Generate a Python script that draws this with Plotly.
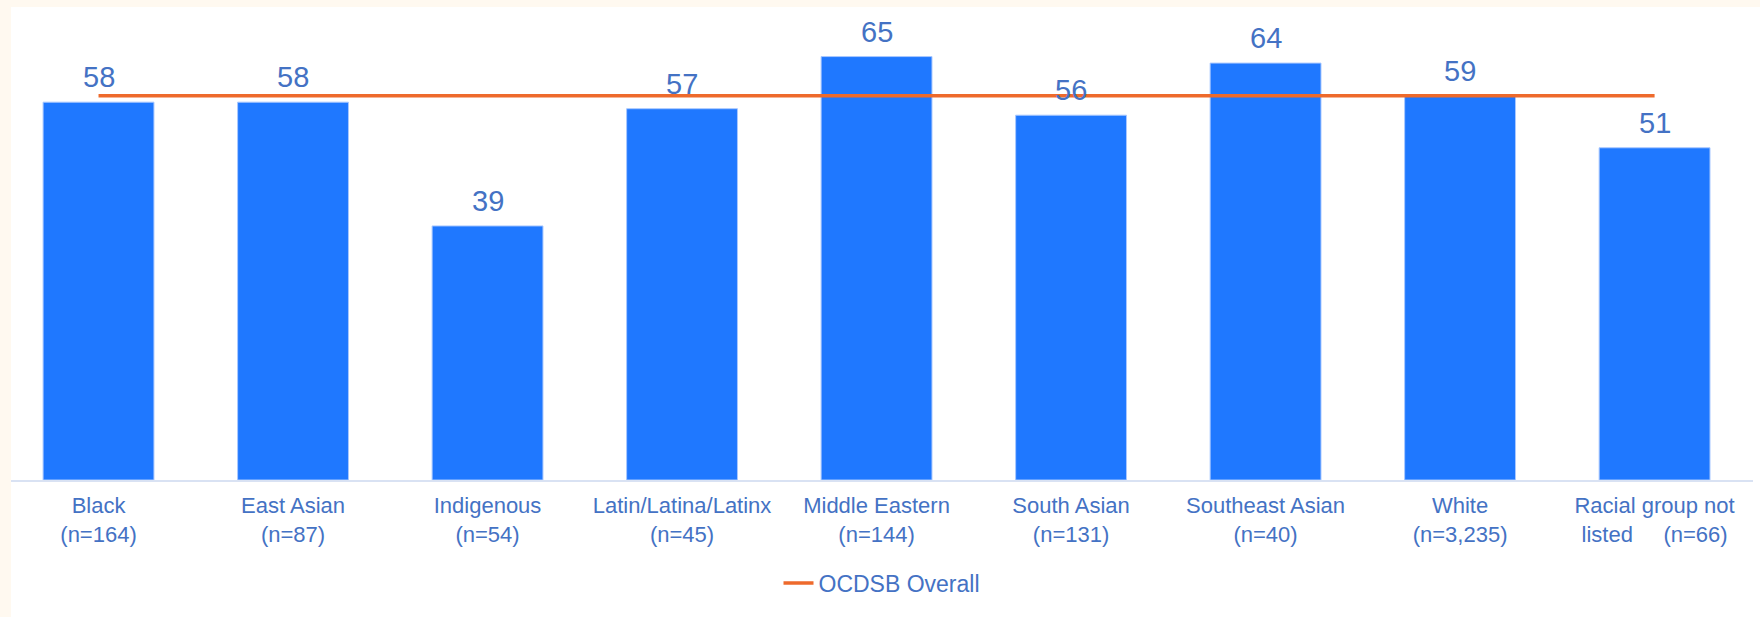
import plotly.graph_objs as go

# Data
groups = ['Black', 'East Asian', 'Indigenous', 'Latin/Latina/Latinx', 'Middle Eastern',
          'South Asian', 'Southeast Asian', 'White', 'Racial group not']
counts = ['(n=164)', '(n=87)', '(n=54)', '(n=45)', '(n=144)',
          '(n=131)', '(n=40)', '(n=3,235)', '(n=66)']
values = [58, 58, 39, 57, 65, 56, 64, 59, 51]
overall = 59

# Tick labels: group name on the first line, sample size below
labels = [g + '<br>' + c for g, c in zip(groups, counts)]
labels[-1] = 'Racial group not<br>listed\u00a0\u00a0\u00a0\u00a0 (n=66)'

text_blue = '#4472C4'
font_name = 'Liberation Sans, Arial, sans-serif'

bars = go.Bar(x=labels, y=values,
              marker={'color': '#1F78FF', 'line': {'color': '#A9C8FF', 'width': 1}},
              showlegend=False)
line = go.Scatter(x=labels, y=[overall] * len(labels), mode='lines', name='OCDSB Overall',
                  line={'color': '#EE6A2C', 'width': 3.5})

# Value labels sit a little higher above the bars than plotly's outside text
value_labels = [{'x': lab, 'y': v, 'text': str(v), 'showarrow': False, 'yanchor': 'middle',
                 'yshift': 25, 'font': {'size': 29, 'color': text_blue}}
                for lab, v in zip(labels, values)]

layout = go.Layout(
    width=1760, height=617,
    margin={'l': 11, 'r': 7, 't': 24, 'b': 137},
    paper_bgcolor='#FFF9F0', plot_bgcolor='white',
    font={'family': font_name, 'color': text_blue, 'size': 22},
    bargap=0.43,
    xaxis={'range': [-0.45, 8.506], 'showline': True, 'linecolor': '#D9E2F3', 'linewidth': 2,
           'ticks': '', 'showgrid': False, 'ticklabelstandoff': 5,
           'tickfont': {'size': 22, 'color': text_blue}},
    yaxis={'range': [0, 70], 'visible': False, 'showgrid': False},
    legend={'orientation': 'h', 'x': 0.5, 'xanchor': 'center', 'y': -0.226, 'yanchor': 'middle',
            'font': {'size': 23, 'color': text_blue}, 'bgcolor': 'rgba(0,0,0,0)'},
    annotations=value_labels,
    # white chart area, leaving a thin cream border on the left and top
    shapes=[{'type': 'rect', 'xref': 'paper', 'yref': 'paper', 'layer': 'below',
             'x0': 0, 'x1': 1749 / 1742, 'y0': -137 / 456, 'y1': 473 / 456,
             'fillcolor': 'white', 'line': {'width': 0}}],
)

fig = go.Figure(data=[bars, line], layout=layout)
fig.write_html('out.html', config={'displayModeBar': False},
               post_script="document.body.style.margin='0';")
